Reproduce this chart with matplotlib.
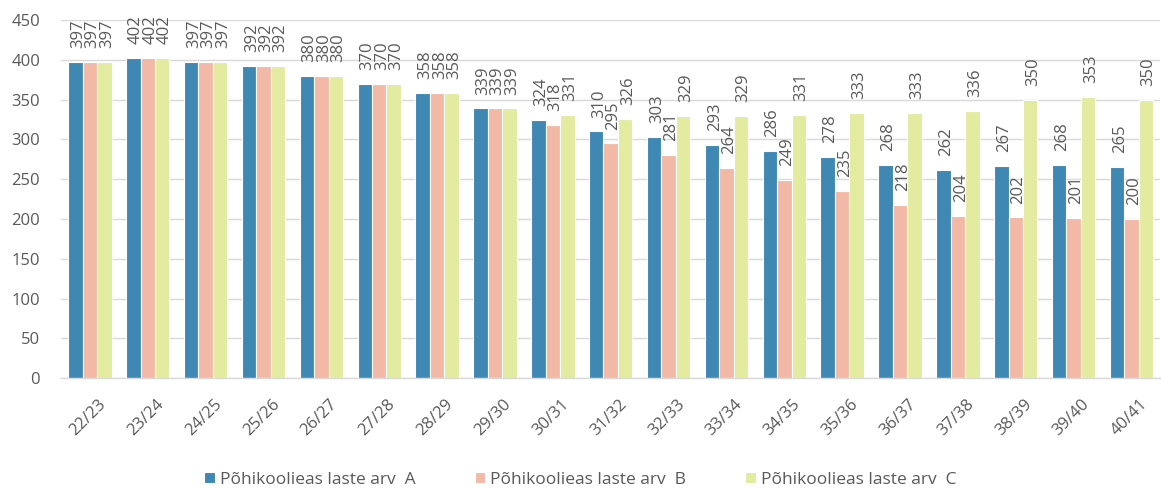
import numpy as np
import matplotlib
matplotlib.use("Agg")
import matplotlib.pyplot as plt
import matplotlib.transforms as mtransforms

# Data
years = ["22/23", "23/24", "24/25", "25/26", "26/27", "27/28", "28/29", "29/30",
         "30/31", "31/32", "32/33", "33/34", "34/35", "35/36", "36/37", "37/38",
         "38/39", "39/40", "40/41"]
series_a = [397, 402, 397, 392, 380, 370, 358, 339, 324, 310, 303, 293, 286, 278, 268, 262, 267, 268, 265]
series_b = [397, 402, 397, 392, 380, 370, 358, 339, 318, 295, 281, 264, 249, 235, 218, 204, 202, 201, 200]
series_c = [397, 402, 397, 392, 380, 370, 358, 339, 331, 326, 329, 329, 331, 333, 333, 336, 350, 353, 350]
labels = ["Põhikoolieas laste arv  A", "Põhikoolieas laste arv  B", "Põhikoolieas laste arv  C"]
colors = ["#3F88B4", "#F3B9A7", "#E3EBA1"]

plt.rcParams['font.family'] = ['Open Sans', 'DejaVu Sans']
text_color = "#595959"

fig = plt.figure(figsize=(11.61, 4.91), dpi=100)
ax = fig.add_axes([0.0525, 0.230, 0.947, 0.729])

x = np.arange(len(years))
width = 0.25
for i, (vals, col, lab) in enumerate(zip([series_a, series_b, series_c], colors, labels)):
    pos = x + (i - 1) * width
    bars = ax.bar(pos, vals, width, color=col, edgecolor="white", linewidth=0.8, label=lab)
    for b, v in zip(bars, vals):
        ax.annotate(str(v), (b.get_x() + b.get_width() / 2, v), xytext=(2, 10),
                    textcoords="offset points", rotation=90, ha="center", va="bottom",
                    fontsize=12, color=text_color)

ax.set_xlim(-0.5, len(years) - 0.5)
ax.set_ylim(0, 450)
ax.set_yticks(range(0, 451, 50))
ax.set_xticks(x)
ax.set_xticklabels(years, rotation=45, ha="right", rotation_mode="anchor")
ax.tick_params(axis="both", length=0, colors=text_color, labelsize=12)
ax.tick_params(axis="y", pad=15)
ax.tick_params(axis="x", pad=13)
# nudge x labels to the right like the original
shift = mtransforms.ScaledTranslation(8 / 100, 0, fig.dpi_scale_trans)
for lbl in ax.get_xticklabels():
    lbl.set_transform(lbl.get_transform() + shift)
ax.grid(axis="y", color="#D9D9D9", linewidth=1)
ax.set_axisbelow(True)
for s in ["top", "right", "left"]:
    ax.spines[s].set_visible(False)
ax.spines["bottom"].set_color("#D9D9D9")
ax.spines["bottom"].set_linewidth(1)

leg = fig.legend(loc="lower center", bbox_to_anchor=(0.5, -0.025), ncol=3, frameon=False,
                 fontsize=12.5, handlelength=0.6, handleheight=0.6, handletextpad=0.3,
                 columnspacing=3.4, labelcolor=text_color)

fig.savefig("out.png", dpi=100)
